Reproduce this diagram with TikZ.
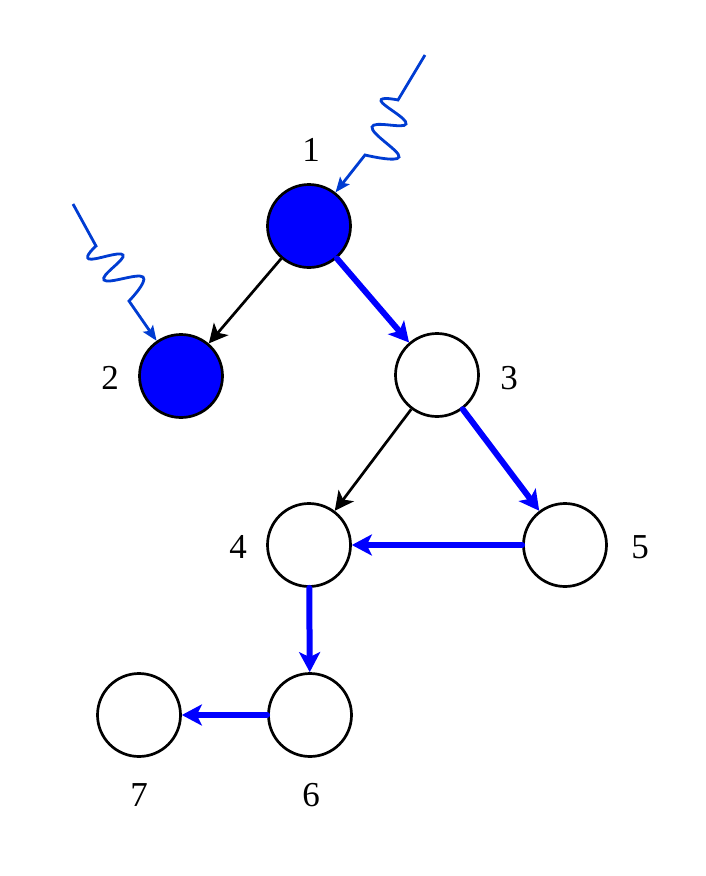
\documentclass[tikz,border=0pt]{standalone}
\usepackage{fontspec}
\setmainfont{Liberation Serif}
\usetikzlibrary{arrows.meta}
\definecolor{fillblue}{RGB}{0,0,255}
\definecolor{wavyblue}{RGB}{0,60,210}
\tikzset{
  vertex/.style={circle,draw=black,line width=2.7pt,minimum size=83pt,inner sep=0pt},
  filled/.style={vertex,fill=fillblue},
  lbl/.style={inner sep=0pt,font=\fontsize{35}{42}\selectfont},
  blk/.style={draw=black,line width=2.7pt,-{Stealth[length=19pt,width=19pt,inset=5pt]}},
  blu/.style={draw=fillblue,line width=6pt,line cap=round,-{Stealth[length=20pt,width=21pt,inset=5pt,line cap=butt]}},
  wavy/.style={draw=wavyblue,line width=2.8pt,-{Stealth[length=15pt,width=12pt,inset=3pt]}}
}
\begin{document}
\begin{tikzpicture}[x=1pt,y=-1pt]
\useasboundingbox (0,0) rectangle (705,876);
\node[filled] (n1) at (309,226) {};
\node[filled] (n2) at (181,376) {};
\node[vertex] (n3) at (437,375) {};
\node[vertex] (n4) at (309,545) {};
\node[vertex] (n5) at (565,545) {};
\node[vertex] (n6) at (310,715) {};
\node[vertex] (n7) at (139,715) {};
\node[lbl] (l1) at (311,150) {1};
\node[lbl] (l2) at (110,378) {2};
\node[lbl] (l3) at (509,378) {3};
\node[lbl] (l4) at (238,547) {4};
\node[lbl] (l5) at (640,547) {5};
\node[lbl] (l6) at (311,795) {6};
\node[lbl] (l7) at (139,795) {7};
\coordinate (w1) at (425,55);
\coordinate (w2) at (73,204);
\draw[blk] (n1) -- (n2);
\draw[blk] (n3) -- (n4);
\draw[blu] (n1) -- (n3);
\draw[blu] (n3) -- (n5);
\draw[blu] (n5) -- (n4);
\draw[blu] (n4) -- (n6);
\draw[blu] (n6) -- (n7);
\draw[wavy] (w1) -- (398,100) -- plot[smooth,tension=0.75] coordinates {(398,100) (381,101) (406,124) (372,127) (399,157) (365,155)} -- (n1);
\draw[wavy] (w2) -- (96,246) -- plot[smooth,tension=0.75] coordinates {(96,246) (89,259) (123,255) (104,280) (143,277) (129,301)} -- (n2);
\end{tikzpicture}
\end{document}
